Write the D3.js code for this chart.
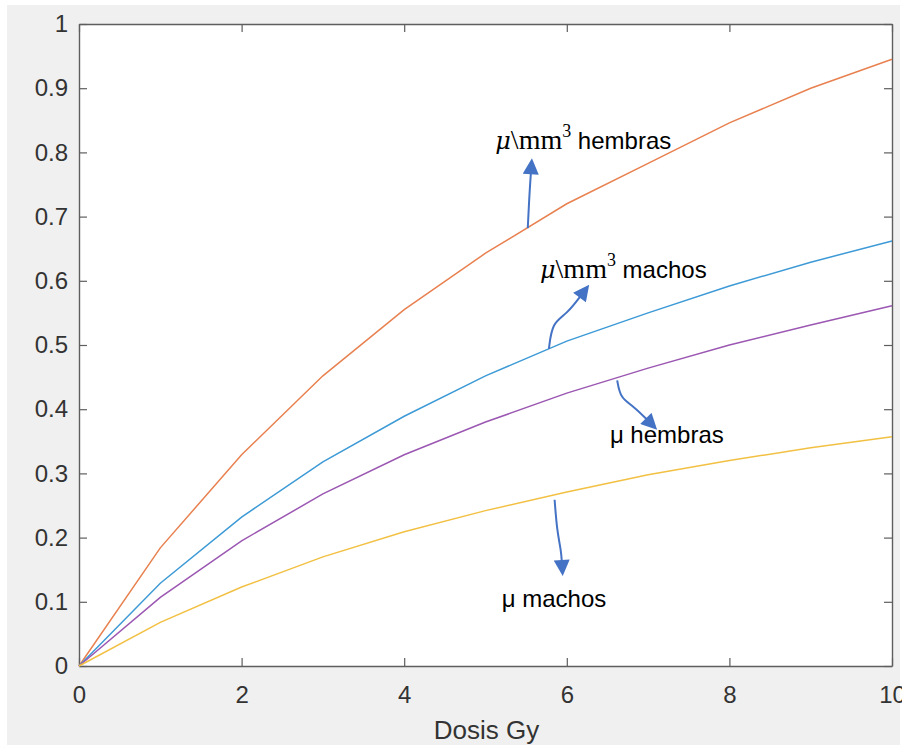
<!DOCTYPE html>
<html>
<head>
<meta charset="utf-8">
<script src="https://cdn.jsdelivr.net/npm/d3@7"></script>
<style>
  html, body { margin: 0; padding: 0; background: #ffffff; }
  svg { display: block; }
</style>
</head>
<body>
<svg id="chart" width="902" height="745"></svg>
<script>
// Dose (Gy) and the four response curves
const dosis = [0, 1, 2, 3, 4, 5, 6, 7, 8, 9, 10];
const mm3Hembras = [0, 0.184, 0.329, 0.452, 0.555, 0.643, 0.720, 0.783, 0.846, 0.900, 0.945];
const mm3Machos  = [0, 0.129, 0.232, 0.318, 0.389, 0.452, 0.506, 0.550, 0.592, 0.629, 0.662];
const muHembras  = [0, 0.107, 0.195, 0.268, 0.329, 0.380, 0.425, 0.464, 0.500, 0.531, 0.561];
const muMachos   = [0, 0.068, 0.123, 0.170, 0.209, 0.242, 0.271, 0.298, 0.320, 0.340, 0.357];

const xTicks = [0, 2, 4, 6, 8, 10];
const yTicks = [0, 0.1, 0.2, 0.3, 0.4, 0.5, 0.6, 0.7, 0.8, 0.9, 1];
const xLabel = "Dosis Gy";

const series = [
  { values: mm3Hembras, color: "#e8804f" },
  { values: mm3Machos,  color: "#3d9ad6" },
  { values: muHembras,  color: "#9b57b2" },
  { values: muMachos,   color: "#f2c043" }
];

// Callouts: curved arrow path points (data units) and label
const arrows = [
  [[5.52, 0.682], [5.54, 0.735], [5.56, 0.771]],
  [[5.78, 0.494], [5.82, 0.535], [6.0, 0.548], [6.18, 0.578]],
  [[6.62, 0.445], [6.66, 0.417], [6.82, 0.405], [7.0, 0.382]],
  [[5.85, 0.259], [5.88, 0.210], [5.93, 0.180], [5.94, 0.160]]
];
const callouts = [
  { x: 5.12, y: 0.806, math: "μ", rest: "\\mm", sup: "3", text: " hembras" },
  { x: 5.67, y: 0.605, math: "μ", rest: "\\mm", sup: "3", text: " machos" },
  { x: 6.53, y: 0.347, math: null, text: "μ hembras" },
  { x: 5.20, y: 0.092, math: null, text: "μ machos" }
];

const svg = d3.select("#chart");
const plot = { left: 79, right: 892, top: 24, bottom: 666 };

// figure background
svg.append("rect").attr("x", 7).attr("y", 5).attr("width", 893).attr("height", 740)
  .attr("fill", "#f0f0f0");

const x = d3.scaleLinear().domain([0, 10]).range([plot.left, plot.right]);
const y = d3.scaleLinear().domain([0, 1]).range([plot.bottom, plot.top]);

svg.append("rect").attr("x", plot.left).attr("y", plot.top)
  .attr("width", plot.right - plot.left).attr("height", plot.bottom - plot.top)
  .attr("fill", "#ffffff");

const axisColor = "#5e5e5e";
const tickFont = "Liberation Sans, Arial, sans-serif";

function styleAxis(g, showText) {
  g.select(".domain").attr("stroke", axisColor).attr("stroke-width", 1.4);
  g.selectAll(".tick line").attr("stroke", axisColor).attr("stroke-width", 1.2);
  g.selectAll(".tick text").attr("fill", "#333333")
    .style("font-family", tickFont).style("font-size", "24px")
    .style("display", showText ? null : "none");
}

// bottom / left with labels, top / right mirrored ticks
svg.append("g").attr("transform", `translate(0,${plot.bottom})`)
  .call(d3.axisBottom(x).tickValues(xTicks).tickFormat(d3.format("d")).tickSizeInner(-8).tickSizeOuter(0).tickPadding(20))
  .call(g => styleAxis(g, true));
svg.append("g").attr("transform", `translate(0,${plot.top})`)
  .call(d3.axisTop(x).tickValues(xTicks).tickSizeInner(-8).tickSizeOuter(0))
  .call(g => styleAxis(g, false));
svg.append("g").attr("transform", `translate(${plot.left},0)`)
  .call(d3.axisLeft(y).tickValues(yTicks).tickFormat(d => d === 0 || d === 1 ? d3.format("d")(d) : d3.format(".1f")(d)).tickSizeInner(-8).tickSizeOuter(0).tickPadding(11))
  .call(g => styleAxis(g, true));
svg.append("g").attr("transform", `translate(${plot.right},0)`)
  .call(d3.axisRight(y).tickValues(yTicks).tickSizeInner(-8).tickSizeOuter(0))
  .call(g => styleAxis(g, false));

// x-axis title
svg.append("text").attr("x", (plot.left + plot.right) / 2 + 1).attr("y", 739)
  .attr("text-anchor", "middle").attr("fill", "#333333")
  .style("font-family", tickFont).style("font-size", "26px").text(xLabel);

// curves
const line = d3.line().x((d, i) => x(dosis[i])).y(d => y(d));
series.forEach(s => {
  svg.append("path").datum(s.values).attr("d", line)
    .attr("fill", "none").attr("stroke", s.color).attr("stroke-width", 1.5);
});

// arrowhead marker
svg.append("defs").append("marker")
  .attr("id", "head").attr("viewBox", "0 0 10 10").attr("refX", 2).attr("refY", 5)
  .attr("markerUnits", "userSpaceOnUse").attr("markerWidth", 17).attr("markerHeight", 16)
  .attr("orient", "auto")
  .append("path").attr("d", "M0,0 L10,5 L0,10 Z").attr("fill", "#4472c4");

const curve = d3.line().x(d => x(d[0])).y(d => y(d[1])).curve(d3.curveBasis);
arrows.forEach(pts => {
  svg.append("path").attr("d", curve(pts))
    .attr("fill", "none").attr("stroke", "#4472c4").attr("stroke-width", 2)
    .attr("marker-end", "url(#head)");
});

// callout labels
callouts.forEach(c => {
  const t = svg.append("text").attr("x", x(c.x)).attr("y", y(c.y)).attr("fill", "#000")
    .style("font-family", "Liberation Sans, Arial, sans-serif").style("font-size", "24px");
  if (c.math) {
    t.append("tspan").style("font-family", "DejaVu Serif, serif").style("font-style", "italic").style("font-size", "24px").text(c.math);
    t.append("tspan").style("font-family", "Liberation Serif, serif").style("font-size", "28px").text(c.rest);
    t.append("tspan").attr("dy", -12).style("font-family", "Liberation Serif, serif").style("font-size", "18px").text(c.sup);
    t.append("tspan").attr("dy", 12).text(c.text);
  } else {
    t.text(c.text);
  }
});
</script>
</body>
</html>
